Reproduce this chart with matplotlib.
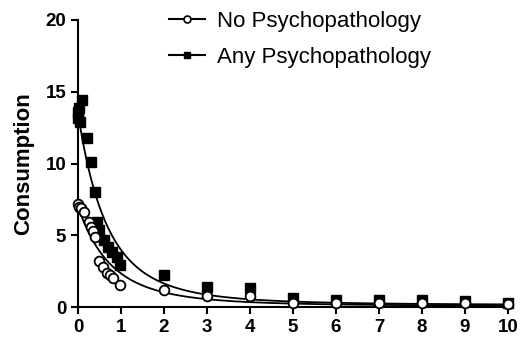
import numpy as np
import matplotlib
matplotlib.use("Agg")
import matplotlib.pyplot as plt

plt.rcParams["font.family"] = ["Liberation Sans", "DejaVu Sans"]

# Данные: цена и потребление для группы без психопатологии
no_price = [0, 0.02, 0.07, 0.15, 0.25, 0.3, 0.35, 0.4, 0.5, 0.58, 0.67, 0.75, 0.82, 0.98,
            2, 3, 4, 5, 6, 7, 8, 9, 10]
no_cons = [7.2, 7.0, 6.9, 6.6, 5.9, 5.6, 5.3, 4.9, 3.2, 2.8, 2.4, 2.2, 2.0, 1.5,
           1.2, 0.8, 0.8, 0.3, 0.3, 0.3, 0.3, 0.25, 0.2]

# Данные: группа с любой психопатологией
any_price = [0, 0.01, 0.03, 0.05, 0.09, 0.2, 0.3, 0.4, 0.45, 0.5, 0.6, 0.7, 0.8, 0.9, 0.98,
             2, 3, 4, 5, 6, 7, 8, 9, 10]
any_cons = [13.2, 13.6, 13.9, 12.9, 14.4, 11.8, 10.1, 8.0, 5.9, 5.4, 4.7, 4.2, 3.8, 3.5, 2.9,
            2.2, 1.4, 1.3, 0.6, 0.5, 0.5, 0.5, 0.4, 0.3]

# Параметры экспоненциальной модели спроса (Q0, alpha, k)
no_fit = (7.0, 0.040, 1.95)
any_fit = (13.5, 0.0235, 1.95)

x_ticks = [0, 1, 2, 3, 4, 5, 6, 7, 8, 9, 10]
y_ticks = [0, 5, 10, 15, 20]


def demand(c, q0, alpha, k):
    return q0 * 10 ** (k * (np.exp(-alpha * q0 * c) - 1))


fig = plt.figure(figsize=(5.22, 3.49), dpi=100)
ax = fig.add_axes([0.1494, 0.1203, 0.8238, 0.8224])

c = np.linspace(0, 10, 400)
ax.plot(c, demand(c, *no_fit), color="black", linewidth=1.3)
ax.plot(c, demand(c, *any_fit), color="black", linewidth=1.3)

ax.plot(any_price, any_cons, linestyle="none", marker="s", markersize=6.5,
        color="black", clip_on=False, zorder=3)
ax.plot(no_price, no_cons, linestyle="none", marker="o", markersize=7,
        markerfacecolor="white", markeredgecolor="black", markeredgewidth=1.3,
        clip_on=False, zorder=4)

# Легенда
h1, = ax.plot([], [], color="black", linewidth=1.5, marker="o", markersize=5,
              markerfacecolor="white", markeredgecolor="black", markeredgewidth=1.2)
h2, = ax.plot([], [], color="black", linewidth=1.5, marker="s", markersize=5)
fig.legend([h1, h2], ["No Psychopathology", "Any Psychopathology"],
           loc="upper left", bbox_to_anchor=(0.286, 1.025), frameon=False,
           fontsize=16, handlelength=1.6, labelspacing=0.65, handletextpad=0.55)

ax.set_xlim(0, 10)
ax.set_ylim(0, 20)
ax.set_xticks(x_ticks)
ax.set_yticks(y_ticks)
ax.spines["top"].set_visible(False)
ax.spines["right"].set_visible(False)
ax.spines["left"].set_linewidth(1.5)
ax.spines["bottom"].set_linewidth(1.5)
ax.tick_params(width=1.5, length=5, labelsize=13.5)
for lab in ax.get_xticklabels() + ax.get_yticklabels():
    lab.set_fontweight("bold")
ax.set_ylabel("Consumption", fontsize=16, fontweight="bold", labelpad=8)

fig.savefig("out.png", dpi=100)
